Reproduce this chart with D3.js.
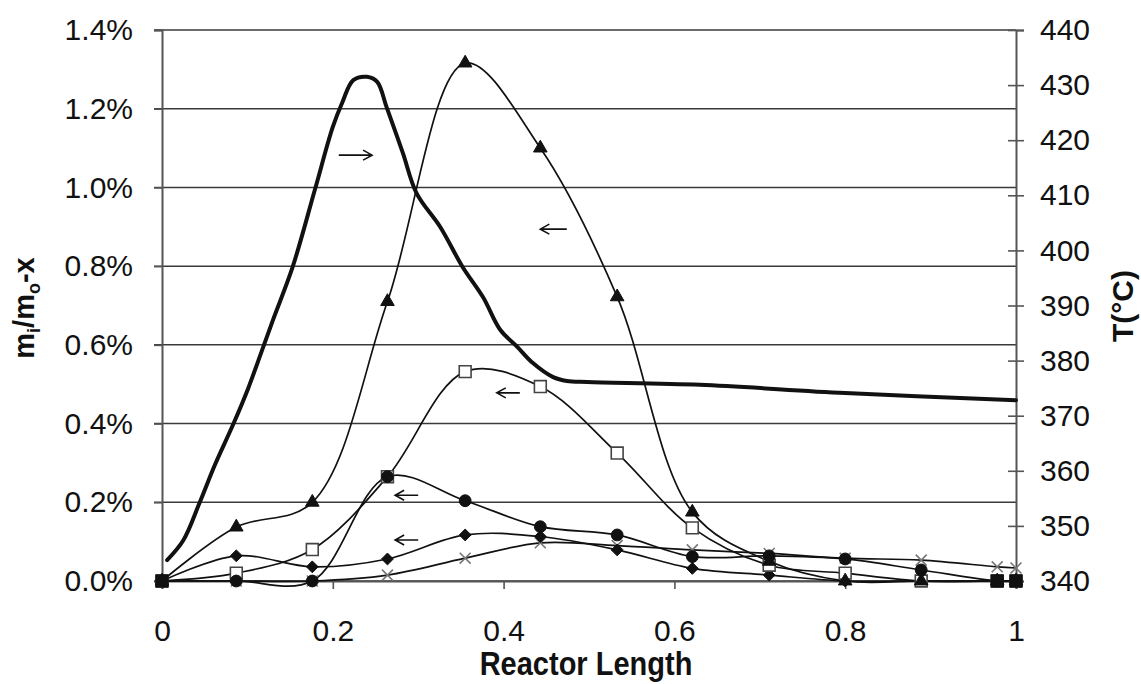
<!DOCTYPE html>
<html>
<head>
<meta charset="utf-8">
<script src="https://cdn.jsdelivr.net/npm/d3@7"></script>
<style>
  body { margin: 0; background: #fff; }
  svg { display: block; font-family: "Liberation Sans", Arial, sans-serif; }
</style>
</head>
<body>
<div id="chart"></div>
<script>
// reactor length positions shared by the mass fraction series
var lengths = [0, 0.087, 0.176, 0.264, 0.355, 0.443, 0.533, 0.621, 0.711, 0.8, 0.889, 0.978, 1];

// mass fractions, in percent
var triangleVals = [0, 0.137, 0.20, 0.71, 1.316, 1.10, 0.722, 0.175, 0.05, 0, 0, 0, 0];
var squareVals   = [0, 0.02, 0.08, 0.265, 0.532, 0.494, 0.325, 0.135, 0.04, 0.02, 0, 0, 0];
var circleVals   = [0, 0, 0, 0.265, 0.204, 0.138, 0.117, 0.062, 0.064, 0.056, 0.028, 0, 0];
var diamondVals  = [0, 0.064, 0.036, 0.056, 0.117, 0.113, 0.079, 0.032, 0.015, 0, 0, 0, 0];
var crossVals    = [0, 0, 0, 0.015, 0.058, 0.097, 0.09, 0.079, 0.07, 0.058, 0.053, 0.036, 0.033];
var blockVals    = [0, null, null, null, null, null, null, null, null, null, null, 0, 0];

// temperature profile (right axis)
var tempX = [0.006, 0.025, 0.044, 0.062, 0.083, 0.101, 0.117, 0.130, 0.153, 0.179, 0.200, 0.211, 0.224, 0.240,
  0.252, 0.263, 0.282, 0.298, 0.326, 0.352, 0.376, 0.396, 0.416, 0.434, 0.458, 0.474, 0.498, 0.630, 0.800, 1.0];
var tempC = [343.8, 347.4, 354.2, 361.1, 368.3, 375.0, 381.8, 387.4, 397.0, 411.0, 422.4, 426.8, 430.9, 431.5,
  430.6, 426.0, 417.7, 410.4, 404.2, 397.0, 391.5, 385.6, 382.5, 379.6, 377.0, 376.3, 376.1, 375.6, 374.1, 372.8];

// direction arrows: [x from, x to, y in percent]
var arrows = [[0.207, 0.246, 1.082], [0.474, 0.443, 0.894], [0.419, 0.392, 0.478], [0.300, 0.273, 0.218], [0.300, 0.273, 0.104]];

var xTicks = [0, 0.2, 0.4, 0.6, 0.8, 1];
var yTicks = [0, 0.2, 0.4, 0.6, 0.8, 1.0, 1.2, 1.4];
var tTicks = [340, 350, 360, 370, 380, 390, 400, 410, 420, 430, 440];

var svgW = 1141, svgH = 684;
var margin = { top: 30, right: 125, bottom: 103, left: 162 },
    w = svgW - margin.left - margin.right,
    h = svgH - margin.top - margin.bottom;

var svg = d3.select("#chart").append("svg").attr("width", svgW).attr("height", svgH);
var g = svg.append("g").attr("transform", "translate(" + margin.left + "," + margin.top + ")");

var x = d3.scaleLinear().domain([0, 1]).range([0, w]);
var y = d3.scaleLinear().domain([0, 1.4]).range([h, 0]);
var yT = d3.scaleLinear().domain([340, 440]).range([h, 0]);

// gridlines
g.selectAll(".grid").data(yTicks).enter().append("line")
  .attr("x1", -8).attr("x2", w)
  .attr("y1", function (d) { return y(d); }).attr("y2", function (d) { return y(d); })
  .attr("stroke", "#3a3a3a").attr("stroke-width", 1.5);

// left axis
var yAxis = d3.axisLeft(y).tickValues(yTicks).tickSize(8).tickPadding(21)
  .tickFormat(function (d) { return d.toFixed(1) + "%"; });
var gy = g.append("g").call(yAxis);

// right axis
var tAxis = d3.axisRight(yT).tickValues(tTicks).tickSize(8).tickPadding(16);
var gt = g.append("g").attr("transform", "translate(" + w + ",0)").call(tAxis);
gt.selectAll(".tick line").attr("x1", -8);

// bottom axis
var xAxis = d3.axisBottom(x).tickValues(xTicks).tickSize(8).tickPadding(31)
  .tickFormat(function (d) { return d === 0 || d === 1 ? d : d.toFixed(1); });
var gx = g.append("g").attr("transform", "translate(0," + h + ")").call(xAxis);

[gy, gt, gx].forEach(function (a) {
  a.select(".domain").attr("stroke", "#555").attr("stroke-width", 2);
  a.selectAll(".tick line").attr("stroke", "#555").attr("stroke-width", 1.6);
  a.selectAll("text").attr("font-size", 30).attr("fill", "#111").attr("font-family", "Liberation Sans, Arial, sans-serif");
});

// series
var line = d3.line()
  .defined(function (d) { return d[1] !== null; })
  .x(function (d) { return x(d[0]); })
  .y(function (d) { return y(d[1]); })
  .curve(d3.curveCatmullRom.alpha(0.5));

function pts(vals) {
  return vals.map(function (v, i) { return [lengths[i], v]; });
}

var crossSym = {
  draw: function (ctx, size) {
    var r = Math.sqrt(size) / 2;
    ctx.moveTo(-r, -r); ctx.lineTo(r, r);
    ctx.moveTo(r, -r); ctx.lineTo(-r, r);
  }
};
var diamondSym = {
  draw: function (ctx, size) {
    var r = Math.sqrt(size) / 1.6;
    ctx.moveTo(0, -r); ctx.lineTo(r, 0); ctx.lineTo(0, r); ctx.lineTo(-r, 0); ctx.closePath();
  }
};

var series = [
  { vals: crossVals, sym: crossSym, size: 120, fill: "none", stroke: "#777", sw: 1.6 },
  { vals: diamondVals, sym: diamondSym, size: 90, fill: "#111", stroke: "#111", sw: 1 },
  { vals: squareVals, sym: d3.symbolSquare, size: 140, fill: "#fff", stroke: "#444", sw: 1.6 },
  { vals: circleVals, sym: d3.symbolCircle, size: 110, fill: "#111", stroke: "#111", sw: 1 },
  { vals: triangleVals, sym: d3.symbolTriangle, size: 80, fill: "#111", stroke: "#111", sw: 1 },
  { vals: blockVals, sym: d3.symbolSquare, size: 150, fill: "#111", stroke: "#111", sw: 1 }
];

series.forEach(function (s) {
  g.append("path").datum(pts(s.vals))
    .attr("d", line).attr("fill", "none").attr("stroke", "#111").attr("stroke-width", 1.7);
});

series.forEach(function (s) {
  g.selectAll(null).data(pts(s.vals).filter(function (d) { return d[1] !== null; })).enter().append("path")
    .attr("transform", function (d) { return "translate(" + x(d[0]) + "," + y(d[1]) + ")"; })
    .attr("d", d3.symbol().type(s.sym).size(s.size))
    .attr("fill", s.fill).attr("stroke", s.stroke).attr("stroke-width", s.sw);
});

// temperature
var tLine = d3.line()
  .x(function (d) { return x(d[0]); })
  .y(function (d) { return yT(d[1]); })
  .curve(d3.curveCatmullRom.alpha(0.5));
g.append("path").datum(tempX.map(function (v, i) { return [v, tempC[i]]; }))
  .attr("d", tLine).attr("fill", "none").attr("stroke", "#111").attr("stroke-width", 4)
  .attr("stroke-linejoin", "round").attr("stroke-linecap", "round");

// arrows
arrows.forEach(function (a) {
  var x1 = x(a[0]), x2 = x(a[1]), yy = y(a[2]);
  var dir = x2 > x1 ? 1 : -1;
  g.append("path")
    .attr("d", "M" + x1 + "," + yy + "L" + x2 + "," + yy +
      "M" + (x2 - dir * 9) + "," + (yy - 5) + "L" + x2 + "," + yy + "L" + (x2 - dir * 9) + "," + (yy + 5))
    .attr("fill", "none").attr("stroke", "#111").attr("stroke-width", 1.6);
});

// axis titles
svg.append("g").attr("transform", "translate(" + (margin.left + w / 2 - 3) + ",675) scale(1,1.15)")
  .append("text").attr("text-anchor", "middle").attr("font-size", 29).attr("font-weight", "bold")
  .attr("fill", "#111").text("Reactor Length");

var yl = svg.append("text").attr("transform", "translate(34,308) rotate(-90)")
  .attr("text-anchor", "middle").attr("font-size", 29).attr("font-weight", "bold").attr("fill", "#111");
yl.append("tspan").text("m");
yl.append("tspan").attr("font-size", 18).attr("dy", 6).text("i");
yl.append("tspan").attr("dy", -6).text("/m");
yl.append("tspan").attr("font-size", 18).attr("dy", 6).text("o");
yl.append("tspan").attr("dy", -6).text("-x");

svg.append("text").attr("transform", "translate(1133,306) rotate(-90)")
  .attr("text-anchor", "middle").attr("font-size", 30).attr("font-weight", "bold").attr("fill", "#111")
  .text("T(°C)");
</script>
</body>
</html>
